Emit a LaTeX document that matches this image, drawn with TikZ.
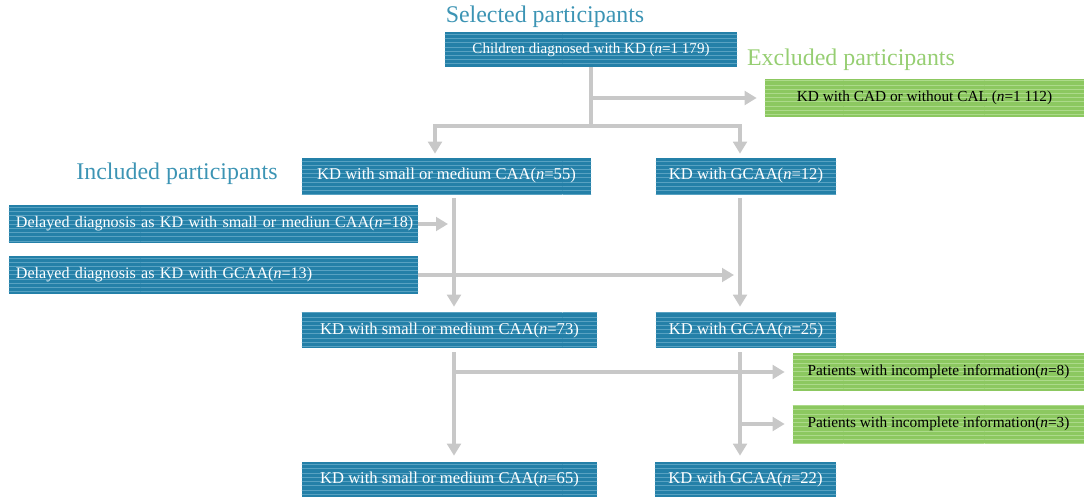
\documentclass[tikz,border=0pt]{standalone}
\usepackage{fontspec}
\setmainfont{Liberation Serif}
\usetikzlibrary{arrows.meta, positioning, calc, patterns}
\definecolor{kdTeal}{RGB}{36,128,168}
\definecolor{kdStripe}{RGB}{88,162,194}
\definecolor{titleTeal}{RGB}{60,148,180}
\definecolor{exGreen}{RGB}{140,200,96}
\definecolor{exStripe}{RGB}{172,218,138}
\definecolor{titleGreen}{RGB}{150,206,114}
\definecolor{flowGray}{RGB}{200,200,200}
\tikzset{
  kdbox/.style={
    rectangle,
    preaction={fill=kdTeal},
    pattern=horizontal lines, pattern color=kdStripe,
    text=white, inner sep=0pt,
    minimum height=0.9cm,
    align=center,
    font=\fontsize{11.8}{13}\selectfont
  },
  exbox/.style={
    rectangle,
    preaction={fill=exGreen},
    pattern=horizontal lines, pattern color=exStripe,
    text=black, inner sep=0pt,
    minimum height=0.95cm,
    align=center,
    font=\fontsize{10.9}{12}\selectfont
  },
  delaybox/.style={
    kdbox,
    minimum height=0.95cm,
    inner xsep=0.175cm,
    text width=9.875cm, align=left,
    font=\fontsize{11.45}{13}\selectfont
  },
  grouptitle/.style={
    font=\fontsize{17}{19}\selectfont
  },
  flowline/.style={
    line width=2.7pt, color=flowGray
  },
  flow/.style={
    flowline,
    -{Triangle[length=3mm,width=3.4mm]}
  }
}

\begin{document}
\begin{tikzpicture}[x=0.025cm, y=-0.025cm]
  \useasboundingbox (0,0) rectangle (1084,499);

  % titles
  \node[grouptitle, text=titleTeal]  (seltitle) at (545,17)  {Selected participants};
  \node[grouptitle, text=titleGreen] (extitle)  at (851,60)  {Excluded participants};
  \node[grouptitle, text=titleTeal]  (inctitle) at (177,174) {Included participants};

  % boxes
  \node[kdbox, minimum width=7.3cm, minimum height=0.875cm, font=\fontsize{10.7}{12}\selectfont] (all) at (591,49.5) {Children diagnosed with KD (\textit{n}=1 179)};
  \node[exbox, minimum width=7.975cm] (excl) at (924.5,98) {KD with CAD or without CAL (\textit{n}=1 112)};

  \node[kdbox, minimum width=7.225cm] (small55) at (446.5,176) {KD with small or medium CAA(\textit{n}=55)};
  \node[kdbox, minimum width=4.5cm]   (gcaa12)  at (746,176)   {KD with GCAA(\textit{n}=12)};

  \node[delaybox] (delay18) at (213.5,224) {\mbox{Delayed diagnosis as KD with small or mediun CAA(\textit{n}=18)}};
  \node[delaybox] (delay13) at (213.5,275) {\mbox{Delayed diagnosis as KD with GCAA(\textit{n}=13)}};

  \node[kdbox, minimum width=7.375cm, minimum height=0.875cm] (small73) at (449.5,330.5) {KD with small or medium CAA(\textit{n}=73)};
  \node[kdbox, minimum width=4.5cm, minimum height=0.875cm]   (gcaa25)  at (746,330.5)   {KD with GCAA(\textit{n}=25)};

  \node[exbox, minimum width=7.275cm] (incomp8) at (938.5,372) {Patients with incomplete information(\textit{n}=8)};
  \node[exbox, minimum width=7.275cm] (incomp3) at (938.5,424) {Patients with incomplete information(\textit{n}=3)};

  \node[kdbox, minimum width=7.375cm, minimum height=0.875cm] (small65) at (449.5,479.5) {KD with small or medium CAA(\textit{n}=65)};
  \node[kdbox, minimum width=4.525cm, minimum height=0.875cm] (gcaa22)  at (745.5,479.5) {KD with GCAA(\textit{n}=22)};

  % columns and junctions
  \coordinate (colL) at (454,0);
  \coordinate (colR) at (740,0);
  \coordinate (split) at (591,126);
  \coordinate (exout) at (591,98);
  \coordinate (splitL) at (435,126);
  \coordinate (splitR) at (740,126);

  % connectors
  \draw[flowline] (all.south) -- (split);
  \draw[flow, shorten >=2mm] (exout) -- (excl.west);
  \draw[flowline] ([xshift=-1.35pt]splitL) -- ([xshift=1.35pt]splitR);
  \draw[flow, shorten >=1mm] (splitL) -- (splitL |- small55.north);
  \draw[flow, shorten >=1mm] (splitR) -- (splitR |- gcaa12.north);

  \draw[flow, shorten <=1mm, shorten >=1.5mm] (colL |- small55.south) -- (colL |- small73.north);
  \draw[flow, shorten >=1.5mm] (delay18.east) -- (colL |- delay18.east);
  \draw[flow, shorten >=1.5mm] (delay13.east) -- (colR |- delay13.east);
  \draw[flow, shorten <=1mm, shorten >=1.5mm] (colR |- gcaa12.south) -- (colR |- gcaa25.north);

  \draw[flow, shorten <=1mm, shorten >=1.5mm] (colL |- small73.south) -- (colL |- small65.north);
  \draw[flow, shorten >=2mm] (colL |- incomp8.west) -- (incomp8.west);
  \draw[flow, shorten <=1mm, shorten >=1.5mm] (colR |- gcaa25.south) -- (colR |- gcaa22.north);
  \draw[flow, shorten >=2mm] (colR |- incomp3.west) -- (incomp3.west);
\end{tikzpicture}
\end{document}
